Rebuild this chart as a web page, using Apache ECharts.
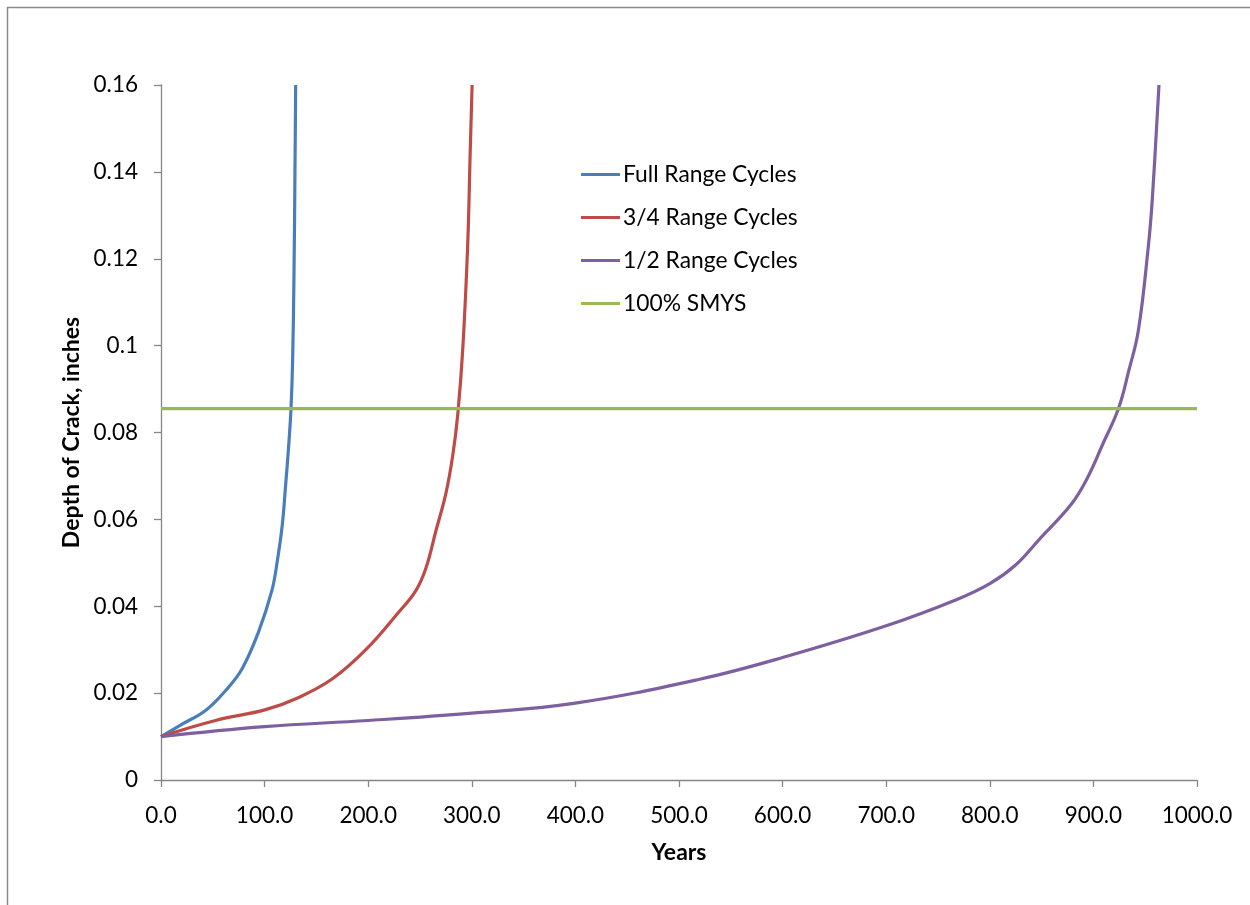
<!DOCTYPE html>
<html>
<head>
<meta charset="utf-8">
<script src="https://cdn.jsdelivr.net/npm/echarts@6/dist/echarts.min.js"></script>
<style>
html,body{margin:0;padding:0;background:#fff;}
#chart{width:1250px;height:905px;}
</style>
</head>
<body>
<div id="chart"></div>
<script>
// Data
const seriesNames = ['Full Range Cycles', '3/4 Range Cycles', '1/2 Range Cycles', '100% SMYS'];

const fullYears = [0, 20, 43, 62, 78, 94, 107, 112, 117, 120, 123.5, 125.5, 127, 128.4, 129.3, 130];
const fullDepth = [0.01, 0.0128, 0.016, 0.0205, 0.0255, 0.034, 0.0436, 0.050, 0.0586, 0.067, 0.0778, 0.0856, 0.096, 0.117, 0.14, 0.16];

const threeQYears = [0, 52.6, 101, 133, 165.5, 197.7, 230, 246, 256, 265.5, 275, 281.6, 286.5, 291.3, 296, 298.4, 300.3];
const threeQDepth = [0.01, 0.0137, 0.0162, 0.019, 0.0233, 0.030, 0.0388, 0.0436, 0.049, 0.0575, 0.066, 0.0747, 0.0843, 0.0993, 0.123, 0.144, 0.16];

const halfYears = [0, 100, 200, 300, 400, 520, 600, 700, 767.7, 800, 824.9, 847.8, 878.4, 893.7, 909, 924.3, 933.8, 943.4, 953, 956.8, 963.3];
const halfDepth = [0.01, 0.0123, 0.0137, 0.0154, 0.0177, 0.0232, 0.0282, 0.0355, 0.0415, 0.0452, 0.0495, 0.0554, 0.0634, 0.0693, 0.0773, 0.0856, 0.0939, 0.1035, 0.1228, 0.1335, 0.16];

const smysYears = [0, 1000];
const smysDepth = [0.0855, 0.0855];

const xTicks = [0, 100, 200, 300, 400, 500, 600, 700, 800, 900, 1000];
const yTicks = [0, 0.02, 0.04, 0.06, 0.08, 0.1, 0.12, 0.14, 0.16];

const colors = ['#4A7EBB', '#BE4B48', '#7D60A0', '#98B954'];

function pairs(xs, ys) { return xs.map((x, i) => [x, ys[i]]); }

const chart = echarts.init(document.getElementById('chart'), null, {renderer: 'canvas'});
const FONT = 'Lato';
const axisColor = '#868686';

const option = {
  animation: false,
  backgroundColor: '#ffffff',
  color: colors,
  graphic: [{
    type: 'rect',
    shape: {x: 7.5, y: 7.5, width: 1300, height: 1000},
    style: {fill: 'none', stroke: '#8a8a8a', lineWidth: 1.5},
    silent: true, z: -1
  }],
  grid: {left: 161, top: 85, width: 1036, height: 695, containLabel: false},
  legend: {
    orient: 'vertical',
    left: 581,
    top: 163,
    padding: 0,
    icon: 'rect',
    itemWidth: 39,
    itemHeight: 3,
    itemGap: 20,
    textStyle: {fontFamily: FONT, fontSize: 22.8, color: '#000', lineHeight: 22.5, padding: [0, 0, 0, -2]},
    data: seriesNames
  },
  xAxis: {
    type: 'value',
    min: xTicks[0],
    max: xTicks[xTicks.length - 1],
    interval: 100,
    name: 'Years',
    nameLocation: 'middle',
    nameGap: 61,
    nameTextStyle: {fontFamily: FONT, fontSize: 23, fontWeight: 'bold', color: '#000'},
    axisLine: {show: true, lineStyle: {color: axisColor, width: 1.3}},
    axisTick: {show: true, inside: false, length: 7, lineStyle: {color: axisColor, width: 1.3}},
    splitLine: {show: false},
    axisLabel: {fontFamily: FONT, fontSize: 22.5, color: '#000', margin: 24,
      formatter: v => Number(v).toFixed(1)}
  },
  yAxis: {
    type: 'value',
    min: yTicks[0],
    max: yTicks[yTicks.length - 1],
    interval: 0.02,
    name: 'Depth of Crack, inches',
    nameLocation: 'middle',
    nameGap: 77,
    nameTextStyle: {fontFamily: FONT, fontSize: 23, fontWeight: 'bold', color: '#000'},
    axisLine: {show: true, lineStyle: {color: axisColor, width: 1.3}},
    axisTick: {show: true, inside: false, length: 7, lineStyle: {color: axisColor, width: 1.3}},
    splitLine: {show: false},
    axisLabel: {fontFamily: FONT, fontSize: 22.5, color: '#000', margin: 23,
      formatter: v => String(+Number(v).toFixed(2))}
  },
  series: [
    {name: seriesNames[0], type: 'line', data: pairs(fullYears, fullDepth)},
    {name: seriesNames[1], type: 'line', data: pairs(threeQYears, threeQDepth)},
    {name: seriesNames[2], type: 'line', data: pairs(halfYears, halfDepth)},
    {name: seriesNames[3], type: 'line', data: pairs(smysYears, smysDepth), smooth: false}
  ].map(s => Object.assign({
    showSymbol: false,
    symbol: 'none',
    smooth: 0.4,
    clip: true,
    lineStyle: {width: 3.2},
    emphasis: {disabled: true}
  }, s))
};
chart.setOption(option);
</script>
</body>
</html>
